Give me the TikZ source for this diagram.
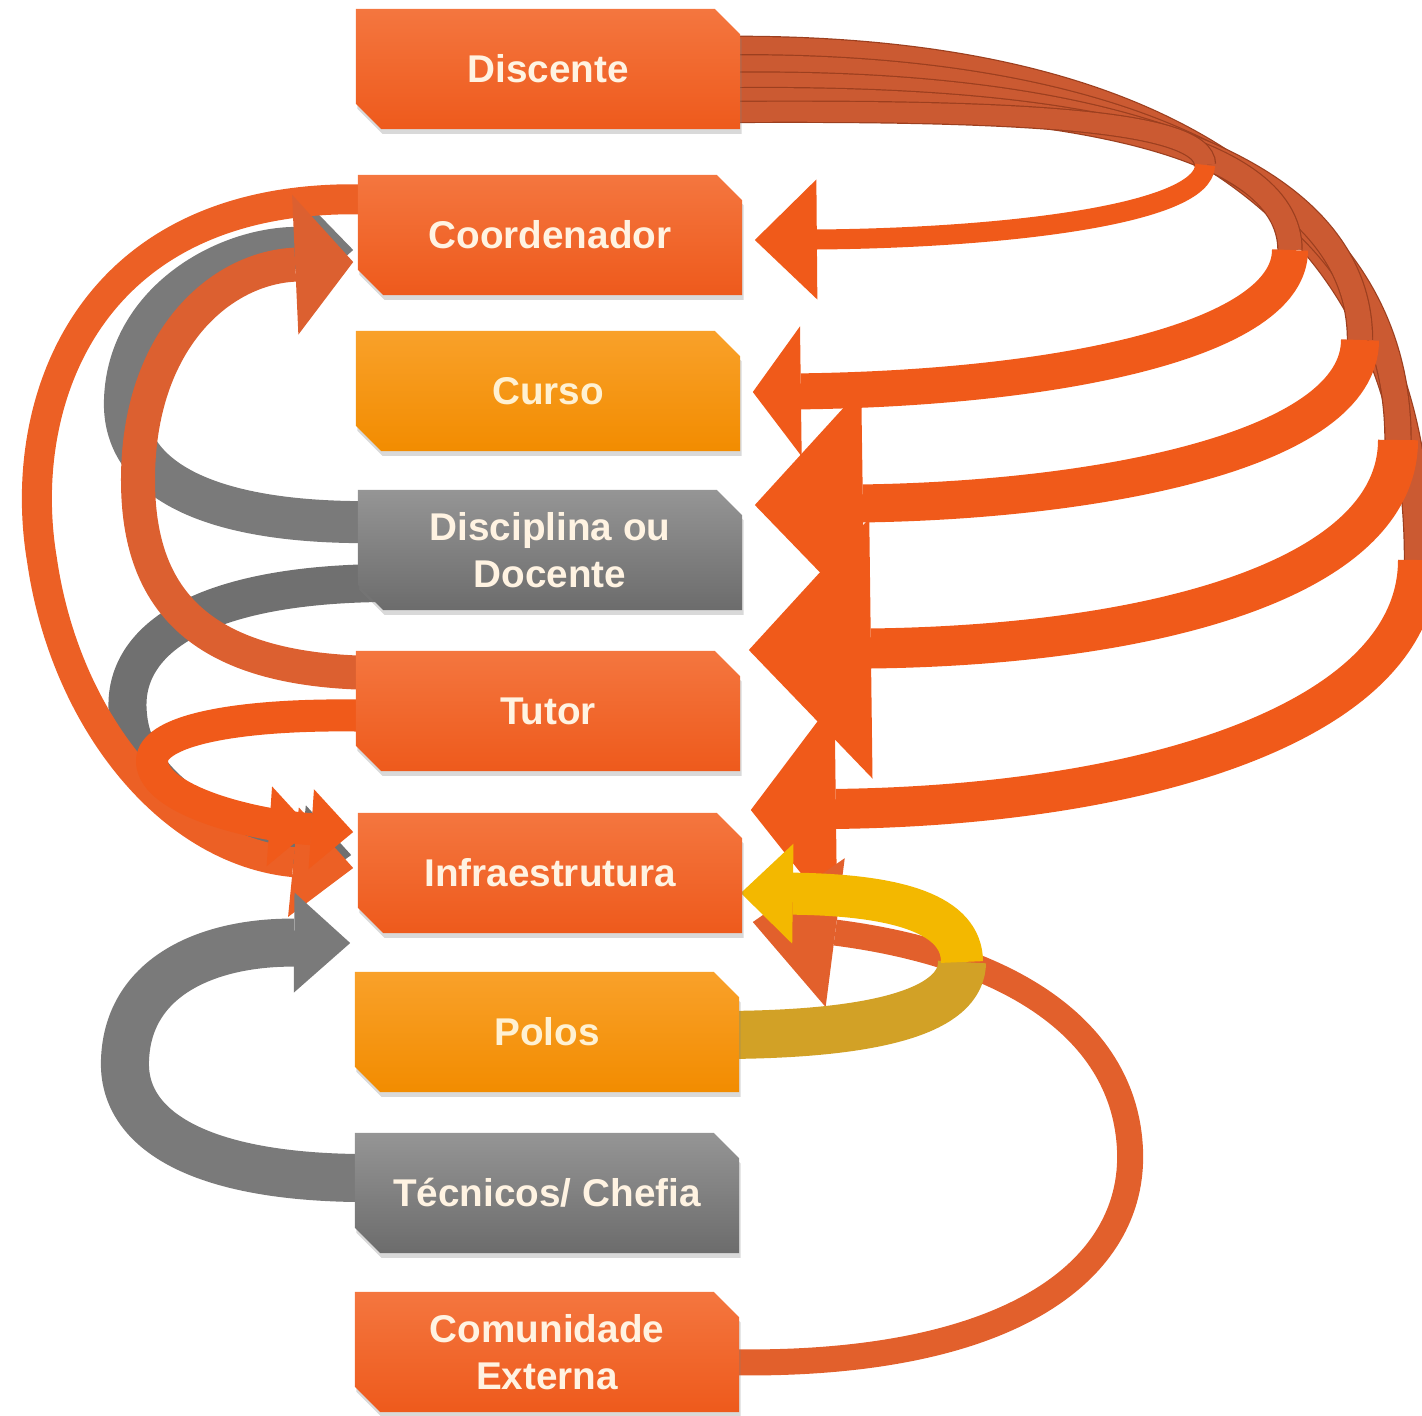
\documentclass[tikz,border=0pt]{standalone}
\usepackage{fontspec}
\setmainfont{Liberation Sans}
\usetikzlibrary{shapes.misc,arrows.meta,calc,shadows,backgrounds}

\definecolor{redtop}{HTML}{F4763F}
\definecolor{redbot}{HTML}{EE5A1C}
\definecolor{ambtop}{HTML}{F9A12A}
\definecolor{ambbot}{HTML}{F28C00}
\definecolor{grytop}{HTML}{959595}
\definecolor{grybot}{HTML}{6C6C6C}
\definecolor{boxtext}{HTML}{FFF3E2}
\definecolor{ambtext}{HTML}{FFF1D2}
\definecolor{ribback}{HTML}{CB5A32}
\definecolor{ribedge}{HTML}{9C3F1F}
\definecolor{ribfront}{HTML}{F05A1A}
\definecolor{ribleft}{HTML}{EC6025}
\definecolor{ribdark}{HTML}{DC6030}
\definecolor{gryrib}{HTML}{707070}
\definecolor{gryrib2}{HTML}{7A7A7A}
\definecolor{yelback}{HTML}{D2A126}
\definecolor{yelfront}{HTML}{F3B800}
\definecolor{comrib}{HTML}{E2602C}

\begin{document}
\begin{tikzpicture}[x=0.01cm,y=-0.01cm,
  box/.style={chamfered rectangle, chamfered rectangle corners={north east,south west},
    chamfered rectangle xsep=0.13cm, minimum width=3.84cm, minimum height=1.2cm,
    inner sep=1pt, align=center, text=boxtext,
    font=\fontsize{11}{13.4}\selectfont\bfseries,
    drop shadow={shadow xshift=0.4pt, shadow yshift=-1.4pt, opacity=0.3}},
  redbox/.style={box, top color=redtop, bottom color=redbot},
  ambbox/.style={box, top color=ambtop, bottom color=ambbot, text=ambtext},
  grybox/.style={box, top color=grytop, bottom color=grybot},
  upper/.style={draw=ribedge, line width=0.12mm, double=ribback, line cap=butt},
  ribbon/.style={line cap=butt, line join=round}
]
\useasboundingbox (0,0) rectangle (1422,1415);

% boxes
\node[redbox] (disc)    at (548,69)   {Discente};
\node[redbox] (coord)   at (550,235)  {Coordenador};
\node[ambbox] (curso)   at (548,391)  {Curso};
\node[grybox] (docente) at (550,550)  {Disciplina ou\\Docente};
\node[redbox] (tutor)   at (548,711)  {Tutor};
\node[redbox] (infra)   at (550,873)  {Infraestrutura};
\node[ambbox] (polos)   at (547,1032) {Polos};
\node[grybox] (tec)     at (547,1193) {Técnicos/ Chefia};
\node[redbox] (com)     at (547,1352) {Comunidade\\Externa};

% turning points of the ribbons
\coordinate (t1) at (1205,165);
\coordinate (t2) at (1290,250);
\coordinate (t3) at (1360,340);
\coordinate (t4) at (1398,440);
\coordinate (t5) at (1418,560);
\coordinate (ty) at (962,962);

\begin{scope}[on background layer]
  % right bundle from Discente: back parts
  \draw[upper, double distance=0.26cm] ($(disc.east)+(-24,-19)$) .. controls (1150,45) and (1418,200) .. (t5);
  \draw[upper, double distance=0.25cm] ($(disc.east)+(-24,-1)$) .. controls (1130,62) and (1398,190) .. (t4);
  \draw[upper, double distance=0.24cm] ($(disc.east)+(-24,16)$) .. controls (1100,78) and (1360,165) .. (t3);
  \draw[upper, double distance=0.23cm] ($(disc.east)+(-24,31)$) .. controls (1050,95) and (1290,140) .. (t2);
  \draw[upper, double distance=0.2cm] ($(disc.east)+(-24,43)$) .. controls (1000,110) and (1205,118) .. (t1);
  % right bundle: front parts with heads
  \draw[ribbon, ribfront, line width=0.2cm, -{Triangle[width=1.2cm,length=0.62cm,line width=0pt]}]
    (t1) .. controls (1205,215) and (1000,238) .. ($(coord.east)+(12,5)$);
  \draw[ribbon, ribfront, line width=0.36cm, -{Triangle[width=1.3cm,length=0.48cm,line width=0pt]}]
    (t2) .. controls (1290,340) and (1060,388) .. ($(curso.east)+(12,1)$);
  \draw[ribbon, ribfront, line width=0.38cm, -{Triangle[width=2.3cm,length=1.08cm,line width=0pt]}]
    (t3) .. controls (1360,450) and (1100,500) .. ($(docente.east)+(12,-45)$);
  \draw[ribbon, ribfront, line width=0.4cm, -{Triangle[width=2.6cm,length=1.22cm,line width=0pt]}]
    (t4) .. controls (1398,580) and (1150,645) .. ($(tutor.east)+(8,-61)$);
  \draw[ribbon, ribfront, line width=0.4cm, -{Triangle[width=2.2cm,length=0.85cm,line width=0pt]}]
    (t5) .. controls (1418,720) and (1150,805) .. ($(infra.east)+(8,-63)$);

  % left side
  \draw[ribbon, gryrib, line width=0.38cm, -{Triangle[width=0.9cm,length=0.5cm,line width=0pt]}]
    ($(docente.west)+(24,33)$) .. controls (200,585) and (120,640) .. (128,715)
    .. controls (135,800) and (250,845) .. ($(infra.west)+(-6,-18)$);
  \draw[ribbon, gryrib2, line width=0.42cm, -{Triangle[width=0.95cm,length=0.5cm,line width=0pt]}]
    ($(docente.west)+(24,-28)$) .. controls (210,525) and (122,480) .. (125,400)
    .. controls (128,300) and (230,245) .. ($(coord.west)+(-4,15)$);
  \draw[ribbon, ribleft, line width=0.3cm, -{Triangle[width=1.1cm,length=0.6cm,line width=0pt]}]
    ($(coord.west)+(24,-35)$) .. controls (90,185) and (15,400) .. (42,560)
    .. controls (65,720) and (170,850) .. ($(infra.west)+(-4,-5)$);
  \draw[ribbon, ribdark, line width=0.34cm, -{Triangle[width=1.4cm,length=0.58cm,line width=0pt]}]
    ($(tutor.west)+(24,-38)$) .. controls (200,672) and (138,600) .. (138,480)
    .. controls (138,340) and (220,268) .. ($(coord.west)+(-4,27)$);
  \draw[ribbon, ribfront, line width=0.32cm, -{Triangle[width=0.8cm,length=0.42cm,line width=0pt] Triangle[width=0.8cm,length=0.42cm,line width=0pt]}]
    ($(tutor.west)+(24,5)$) .. controls (250,712) and (150,728) .. (152,762)
    .. controls (154,800) and (250,825) .. ($(infra.west)+(-4,-41)$);
  \draw[ribbon, gryrib2, line width=0.48cm, -{Triangle[width=1.0cm,length=0.56cm,line width=0pt]}]
    ($(tec.west)+(24,-15)$) .. controls (200,1180) and (122,1130) .. (125,1060)
    .. controls (128,975) and (210,942) .. ($(infra.west)+(-7,70)$);

  % Comunidade Externa
  \draw[ribbon, comrib, line width=0.26cm, -{Triangle[width=1.5cm,length=0.83cm,line width=0pt]}]
    ($(com.east)+(-24,10)$) .. controls (1010,1370) and (1135,1270) .. (1130,1150)
    .. controls (1125,1030) and (1010,955) .. ($(infra.east)+(10,49)$);

  % Polos (yellow)
  \draw[ribbon, yelback, line width=0.48cm] ($(polos.east)+(-24,3)$) .. controls (880,1035) and (962,1010) .. (ty);
  \draw[ribbon, yelfront, line width=0.42cm, -{Triangle[width=1.0cm,length=0.52cm,line width=0pt]}]
    (ty) .. controls (962,915) and (900,895) .. ($(infra.east)+(-2,20)$);
\end{scope}
\end{tikzpicture}
\end{document}
